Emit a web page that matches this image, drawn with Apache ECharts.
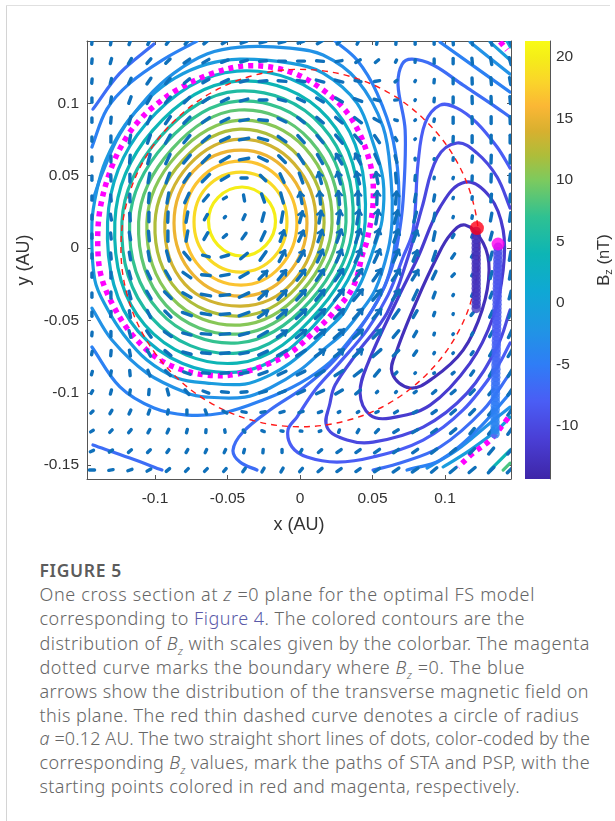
<!DOCTYPE html>
<html><head><meta charset="utf-8">
<script src="https://cdn.jsdelivr.net/npm/echarts@6/dist/echarts.min.js"></script>
<style>
html,body{margin:0;padding:0;background:#fff;width:615px;height:821px;overflow:hidden}
#chart{position:absolute;left:0;top:0;width:615px;height:540px}
.frame-l{position:absolute;left:6px;top:5px;width:1px;height:816px;background:#d4d4d4}
.frame-t{position:absolute;left:6px;top:5px;width:604px;height:1px;background:#e0e0e0}
#cap{position:absolute;left:39.5px;top:0;font-family:"Noto Sans","Open Sans",sans-serif;color:#666;white-space:nowrap}
#cap div{position:absolute;left:0;font-size:18px;line-height:24px;font-weight:300}
#cap .t{font-weight:600;font-size:17.5px;color:#5c5c5c}
#cap a{color:#5a5aa8;text-decoration:none}
#cap sub{font-size:11px;line-height:0}
</style></head><body>
<div class="frame-l"></div><div class="frame-t"></div>
<div id="chart"></div>
<div id="cap">
<div class="t" style="top:558px" data-r="122">FIGURE 5</div>
<div style="top:582px" data-r="535">One cross section at <i>z</i> =0 plane for the optimal FS model</div>
<div style="top:606px" data-r="525">corresponding to <a>Figure 4</a>. The colored contours are the</div>
<div style="top:631px" data-r="590">distribution of <i>B<sub>z</sub></i> with scales given by the colorbar. The magenta</div>
<div style="top:655px" data-r="525">dotted curve marks the boundary where <i>B<sub>z</sub></i> =0. The blue</div>
<div style="top:679px" data-r="589">arrows show the distribution of the transverse magnetic field on</div>
<div style="top:703px" data-r="579">this plane. The red thin dashed curve denotes a circle of radius</div>
<div style="top:726px" data-r="590"><i>a</i> =0.12 AU. The two straight short lines of dots, color-coded by the</div>
<div style="top:750px" data-r="590">corresponding <i>B<sub>z</sub></i> values, mark the paths of STA and PSP, with the</div>
<div style="top:774px" data-r="520">starting points colored in red and magenta, respectively.</div>
</div>
<script>
const xTicks=[-0.1,-0.05,0,0.05,0.1];
const yTicks=[-0.15,-0.1,-0.05,0,0.05,0.1];
const barTicks=[-10,-5,0,5,10,15,20];
const xRange=[-0.1469,0.1455], yRange=[-0.1596,0.1431], barRange=[-14.3,21.3];

const colorValues=[-14.3,-11,-8,-5,-2,1,4,7,10,12,14,16,18,20,21.3];
const colorHex=['#3e26a8','#4a3fd6','#4a5df5','#2f7df6','#1f96e3','#0fa8d4','#0db5b5','#2fc192','#7dca5e','#aebd3a','#d8b02f','#fbb735','#fad52a','#f5ee18','#f9fb15'];

const ringLevels=[20,18.4,16.8,15.2,13.6,12,10.4,8.8,7.2,5.6,4,2.4];
const ring1=[[-.0169,.0187],[-.0238,.0349],[-.04,.0422],[-.0566,.0349],[-.0631,.0187],[-.0566,.0021],[-.04,-.0055],[-.0235,.0021]];
const ring2=[[-.009,.018],[-.0179,.0422],[-.0407,.0525],[-.0642,.0422],[-.0731,.018],[-.0642,-.0062],[-.0407,-.0166],[-.0179,-.0062]];
const ring3=[[-.0021,.0173],[-.0138,.0477],[-.0407,.0601],[-.069,.0477],[-.08,.0173],[-.069,-.0131],[-.0407,-.0256],[-.0138,-.0131]];
const ring4=[[.0048,.0173],[-.009,.0532],[-.0407,.0677],[-.0735,.0532],[-.0869,.0173],[-.0735,-.0187],[-.0407,-.0332],[-.009,-.0187]];
const ring5=[[.011,.0176],[-.0041,.0584],[-.0407,.0753],[-.0766,.0574],[-.0932,.0176],[-.0794,-.0249],[-.0407,-.0401],[-.0052,-.0238]];
const ring6=[[.0166,.0176],[-.0007,.0632],[-.0414,.0822],[-.0807,.0608],[-.1,.0176],[-.0842,-.0297],[-.0414,-.047],[-.0021,-.0269]];
const ring7=[[.0221,.0176],[.0035,.0691],[-.0414,.0884],[-.0849,.0643],[-.1056,.0176],[-.0883,-.0346],[-.0414,-.0532],[.001,-.0301]];
const ring8=[[.0269,.018],[.0069,.0746],[-.0421,.0954],[-.0883,.0684],[-.1113,.018],[-.0925,-.0394],[-.0421,-.0594],[.0041,-.0332]];
const ring9=[[.0317,.018],[.011,.0795],[-.0428,.1016],[-.0925,.0726],[-.1175,.018],[-.0973,-.0435],[-.0428,-.0656],[.0072,-.0363]];
const ring10=[[.0366,.018],[.0152,.0843],[-.0435,.1085],[-.0966,.0767],[-.1228,.018],[-.1021,-.0484],[-.0435,-.0726],[.0104,-.0394]];
const ring11=[[.0407,.018],[.0193,.0898],[-.0435,.1154],[-.1014,.0815],[-.1277,.018],[-.107,-.0532],[-.0435,-.0795],[.0135,-.0425]];
const ring12=[[.0449,.018],[.0242,.0954],[-.0435,.1223],[-.1063,.0857],[-.1327,.018],[-.1118,-.0574],[-.0435,-.0857],[.0166,-.0456]];

const zeroLoop=[[.0504,.0311],[.046,.0044],[.0435,-.0028],[.0366,-.0269],[.0228,-.0449],[.009,-.0587],[-.0069,-.0726],[-.0207,-.0795],[-.0435,-.0871],[-.0644,-.0878],[-.0851,-.0829],[-.1014,-.0739],[-.1173,-.058],[-.129,-.0394],[-.1368,-.0207],[-.1394,-.0014],[-.138,.0263],[-.1299,.056],[-.1196,.0767],[-.1107,.0884],[-.1014,.0974],[-.0851,.1092],[-.06,.1209],[-.0345,.126],[-.0069,.1218],[.0159,.1092],[.0352,.0898],[.0483,.0587]];
const zeroLower=[[.1435,-.1175],[.1311,-.1327],[.1194,-.1417],[.109,-.1513]];
const zeroUpper=[[.138,.1426],[.1428,.1368]];

const levelA=-1, levelB=-2.5, levelC=-4.5, levelD=-6.5, levelE=-8, levelF=-10, levelG=-11.5, levelH=-13;
const lineA=[[-.0642,-.0933],[-.038,-.094],[-.0207,-.0878],[-.0069,-.0795],[.009,-.0663],[.0193,-.056],[.029,-.0463],[.0352,-.0359],[.0428,-.0221],[.0504,-.0014],[.0566,.0193],[.0573,.047],[.0504,.0726],[.0393,.1002],[.0159,.1209],[-.0069,.1278],[-.0414,.1306],[-.0642,.1271],[-.0863,.1175],[-.1035,.1043],[-.1208,.085],[-.1339,.0608],[-.1401,.0401],[-.1435,.0173],[-.1415,-.0221],[-.1332,-.0415],[-.1214,-.0601],[-.1056,-.0774],[-.0849,-.0898]];
const lineAUpper=[[.1311,.1423],[.1449,.1299]];
const lineALower=[[.0987,-.1513],[.1173,-.1396],[.1359,-.1258],[.1449,-.1168]];
const lineB=[[-.1428,.0332],[-.1366,.0511],[-.1242,.0788],[-.1056,.1037],[-.0869,.1209],[-.0642,.1341],[-.0414,.1389],[-.0069,.1382],[.0159,.1334],[.0393,.1161],[.0573,.0836],[.0628,.047],[.0635,.0193],[.0607,-.0014],[.0518,-.029],[.04,-.0463],[.0297,-.0587],[.0159,-.0705],[0,-.0843],[-.0207,-.0967],[-.038,-.103],[-.0642,-.103],[-.078,-.1002],[-.1056,-.0864],[-.1297,-.0636],[-.1435,-.0415]];
const lineBUpper=[[.1173,.1423],[.1449,.1202]];
const lineBLower=[[.0876,-.152],[.1083,-.1396],[.1311,-.1209],[.1449,-.1099]];
const lineC=[[.0242,.143],[.0393,.1299],[.0531,.1071],[.0642,.0746],[.0683,.0352],[.0649,-.0014],[.06,-.0221],[.0497,-.0428],[.0359,-.0615],[.0207,-.0788],[0,-.0933],[-.0255,-.105],[-.0531,-.114],[-.078,-.1154],[-.1007,-.1106],[-.1242,-.096],[-.1435,-.0684]];
const lineCLeft=[[-.1435,.0698],[-.1332,.096],[-.1173,.114],[-.0938,.1306],[-.0711,.143]];
const lineCUpper=[[.0966,.1423],[.1449,.1078]];
const lineCLower=[[.0738,-.1534],[.0966,-.1465],[.1221,-.1258],[.1449,-.1002]];
const lineD=[[-.0297,-.1534],[-.0414,-.1479],[-.0462,-.1396],[-.0393,-.1271],[-.0207,-.1119],[.0021,-.0967],[.0207,-.0808],[.038,-.0601],[.0538,-.0359],[.0628,-.0152],[.0676,.0055],[.0711,.0332],[.0725,.0815],[.0676,.1126],[.0704,.1271],[.0773,.1306],[.0918,.1265],[.1125,.1126],[.1311,.1002],[.1449,.0905]];
const lineDLeftUp=[[-.1428,.096],[-.1242,.1209],[-.1007,.141]];
const lineDLeftLow=[[-.1428,-.1361],[-.1173,-.1451],[-.0952,-.1534]];
const lineDLower=[[.0504,-.1534],[.069,-.1486],[.0966,-.1375],[.1263,-.1119],[.1449,-.0864]];
const lineE=[[.1449,.0553],[.1359,.0698],[.1221,.0864],[.1083,.0967],[.0966,.0988],[.0863,.0864],[.0814,.0587],[.078,.0124],[.0711,-.0062],[.0607,-.0325],[.0462,-.0567],[.0276,-.0788],[.0104,-.0981],[-.0021,-.1168],[-.0083,-.1258],[-.0055,-.1375],[.0048,-.1444],[.0255,-.1479],[.0504,-.1444],[.0849,-.1327],[.1125,-.1119],[.1359,-.0822],[.1449,-.0656]];
const lineF=[[.1449,.0276],[.1359,.0491],[.1221,.0656],[.1083,.0726],[.0945,.0622],[.0842,.0283],[.0745,-.0062],[.06,-.0449],[.0393,-.0726],[.0242,-.0947],[.0207,-.1071],[.0186,-.1237],[.0324,-.1327],[.0504,-.1341],[.0849,-.1237],[.1152,-.1002],[.1359,-.0684],[.1449,-.0428]];
const lineG=[[.1139,.0456],[.1311,.0352],[.1401,.0124],[.1401,-.0152],[.1332,-.0477],[.1173,-.0795],[.0897,-.1085],[.0621,-.1175],[.0483,-.1154],[.0414,-.1002],[.0469,-.0795],[.0669,-.0359],[.0814,-.0062],[.0966,.0283]];
const lineH=[[.1139,.0159],[.1263,.0035],[.1304,-.0152],[.1256,-.0428],[.1125,-.0705],[.0918,-.0898],[.0759,-.0967],[.0635,-.0864],[.0669,-.0705],[.0807,-.0359],[.0945,-.0062],[.1035,.009]];
const cornerTeal=[[.1311,-.1534],[.1449,-.1396]];
const cornerGreen=[[.1401,-.1534],[.1449,-.1486]];
const cornerTop=[[.1428,.143],[.145,.139]];

const circleA=[[.1235,0],[.1193,.032],[.107,.0618],[.0873,.0873],[.0618,.107],[.032,.1193],[0,.1235],[-.032,.1193],[-.0618,.107],[-.0873,.0873],[-.107,.0618],[-.1193,.032],[-.1235,0],[-.1193,-.032],[-.107,-.0618],[-.0873,-.0873],[-.0618,-.107],[-.032,-.1193],[0,-.1235],[.032,-.1193],[.0618,-.107],[.0873,-.0873],[.107,-.0618],[.1193,-.032]];

const gridX=[-.1435,-.1304,-.1173,-.1042,-.0911,-.078,-.0649,-.0518,-.0386,-.0255,-.0124,.0007,.0138,.0269,.04,.0531,.0662,.0794,.0925,.1056,.1187,.1318,.1449];
const gridY=[.1423,.1292,.1154,.1023,.0884,.0753,.0615,.0484,.0346,.0214,.0083,-.0055,-.0187,-.0325,-.0456,-.0594,-.0726,-.0864,-.0995,-.1133,-.1265,-.1403,-.1534];
const arrowAngle=[
[85,80,70,65,55,50,40,30,20,15,15,20,30,45,65,80,85,90,90,95,100,105,110],
[85,75,60,50,45,35,30,20,15,5,0,0,-5,10,30,40,65,85,90,90,95,100,105],
[85,75,65,55,50,40,30,25,15,5,-5,-10,-15,-15,-10,10,40,60,85,90,92,95,100],
[90,80,70,60,50,45,35,25,15,0,-15,-25,-30,-30,-20,-15,5,60,85,90,92,92,95],
[90,85,75,65,55,45,35,25,10,-5,-25,-38,-40,-40,-38,-30,-15,40,80,90,92,90,92],
[90,90,80,70,60,50,40,25,10,-15,-35,-48,-50,-50,-50,-55,-60,50,70,88,90,90,90],
[90,90,85,75,65,50,45,30,10,-25,-45,-58,-60,-60,-62,-65,-75,90,70,85,85,88,88],
[90,92,90,80,70,55,45,30,0,-45,-65,-70,-75,-75,-75,-80,-85,85,80,70,88,88,88],
[90,95,92,85,80,65,50,30,100,110,105,100,95,95,90,88,85,80,80,70,85,85,85],
[90,100,95,90,88,80,60,45,65,75,80,75,80,80,80,80,75,75,80,70,80,80,82],
[90,95,100,95,90,80,60,40,55,65,70,65,70,70,70,72,70,70,78,60,70,75,80],
[90,95,100,100,105,130,165,15,40,55,62,60,65,65,65,65,65,68,72,55,60,75,80],
[90,90,105,115,120,145,175,10,30,45,50,52,55,55,55,55,55,58,65,45,60,75,80],
[90,90,105,120,135,150,170,5,25,42,47,48,50,50,50,50,55,65,70,60,65,70,75],
[90,85,100,115,135,160,170,5,20,35,40,42,44,45,47,50,55,60,70,70,50,65,70],
[85,90,105,125,145,165,175,5,15,30,35,38,40,42,42,45,50,60,70,50,60,60,65],
[80,85,100,120,140,165,175,5,10,25,30,33,35,38,40,42,45,55,60,50,55,60,60],
[75,80,95,110,135,160,175,5,10,20,25,27,30,33,38,50,45,45,30,40,55,60,60],
[60,75,80,85,105,130,160,175,5,15,20,25,25,30,40,45,45,35,40,40,45,50,55],
[45,60,65,70,80,90,110,150,170,10,15,15,20,25,30,25,30,30,35,40,45,50,55],
[30,45,50,60,65,75,85,100,130,160,170,175,20,70,60,45,30,30,35,40,50,50,55],
[25,35,40,45,55,60,65,65,75,85,90,60,40,35,35,35,35,35,38,40,45,50,50],
[0,10,20,30,40,45,45,50,55,60,60,50,40,35,35,35,35,35,40,40,40,45,45]];
const arrowLength=[
[5,6,6,6,6,6,6,7,7,7,7,7,7,6,5,5,5,5,5,6,6,7,8],
[5,6,7,7,7,8,8,8,8,8,8,8,8,7,6,5,3,3,5,6,7,8,8],
[5,6,7,8,8,8,8,9,9,9,9,9,9,9,7,6,3,1.5,4,6,7,8,8],
[5,7,8,9,9,9,9,9,9,9,9,9,9,9,9,7,3,1,4,7,8,8,8],
[5,7,9,9,10,10,10,10,10,10,10,10,10,10,10,8,3,1,3,7,8,8,8],
[5,7,9,10,11,11,11,11,11,11,11,11,11,12,12,10,4,1,2,6,8,9,9],
[5,7,9,11,12,12,12,12,11,11,11,12,12,13,13,12,8,2,1,3,7,9,9],
[5,7,9,11,12,12,12,10,7,9,11,12,13,14,14,13,11,6,2,1.5,5,9,9],
[5,7,9,11,12,12,9,4,7,10,12,13,14,15,15,15,14,9,7,1.5,3,9,9],
[5,7,9,11,12,12,7,2,6,10,12,13,14,15,16,16,15,12,9,1.5,3,9,10],
[5,7,9,11,12,12,9,5,8,11,13,13,14,15,16,16,15,13,10,4,3,9,10],
[5,7,9,11,12,11,8,9,10,12,14,14,15,15,16,16,15,13,11,6,3,9,10],
[5,7,9,10,11,11,10,10,11,13,14,15,15,16,16,16,15,13,10,4,2,8,9],
[5,7,9,10,11,11,11,11,12,13,14,15,15,16,16,15,14,12,7,1.5,3,7,9],
[5,6,8,9,10,11,11,11,12,13,14,15,15,15,15,14,12,9,4,1,4,8,9],
[4,6,8,9,10,10,11,11,11,12,13,14,15,15,14,13,10,7,2,1,3,7,9],
[4,6,7,8,9,10,10,10,10,11,12,12,13,13,13,12,9,6,1.5,1,4,7,9],
[4,5,6,7,8,8,8,9,9,10,10,10,11,11,11,9,3,1,1,3,6,8,9],
[3.5,5,5,6,7,7,7,8,7,8,8,9,9,9,7,2,1.5,3,5,6,7,8,9],
[3.5,4.5,5,5,5,5,5,5,5,5,5,5,4,2,2,3,4,5,6,7,8,9,9],
[3.5,4,4.5,4.5,4.5,4,3.5,3,3,3,2.5,2,2,3,4,5,6,7,7,8,8,9,9],
[4,4.5,4.5,4.5,4,4,4,4,4,4,3.5,4,5,6,6,7,7,7,8,8,8,9,9],
[6,5,5,5,5,4.5,4.5,4.5,5,5,5,5,6,6,6,7,8,8,8,9,9,9,9]];

const staX=.1215;
const staY=[.0115,.0087,.0059,.0031,.0003,-.0025,-.0053,-.0081,-.0109,-.0137,-.0165,-.0193,-.0221,-.0249,-.0277,-.0305,-.0333,-.0361,-.0389,-.0417];
const staBz=[-13,-13,-13,-13,-13,-13.1,-13.1,-13.1,-13,-13,-13,-12.9,-12.9,-12.8,-12.8,-12.7,-12.7,-12.6,-12.6,-12.5];
const pspX=[.1366,.1365,.1365,.1364,.1364,.1363,.1363,.1362,.1362,.1361,.1361,.136,.136,.1359,.1359,.1358,.1358,.1357,.1357,.1356,.1356,.1355,.1355,.1354,.1354,.1353,.1353,.1352,.1352,.1351,.1351,.135,.135,.1349,.1349,.1348,.1348,.1347,.1347,.1346,.1346,.1345,.1345,.1345,.1345,.1345,.1345];
const pspY=[.0005,-.0025,-.0053,-.0081,-.0109,-.0137,-.0165,-.0193,-.0221,-.0249,-.0277,-.0305,-.0333,-.0361,-.0389,-.0417,-.0445,-.0473,-.0501,-.0529,-.0557,-.0585,-.0613,-.0641,-.0669,-.0697,-.0725,-.0753,-.0781,-.0809,-.0837,-.0865,-.0893,-.0921,-.0949,-.0977,-.1005,-.1033,-.1061,-.1089,-.1117,-.1145,-.1173,-.1201,-.1229,-.1257,-.1285];
const pspBz=[-9.4,-9.4,-9.3,-9.3,-9.2,-9.2,-9.1,-9.1,-9,-9,-8.9,-8.9,-8.8,-8.8,-8.7,-8.7,-8.6,-8.5,-8.4,-8.3,-8.2,-8.1,-8,-7.9,-7.7,-7.6,-7.4,-7.3,-7.1,-7,-6.8,-6.6,-6.4,-6.2,-6,-5.8,-5.6,-5.4,-5.2,-5,-4.8,-4.6,-4.4,-4.2,-4,-3.9,-3.8];
const staStart=[.122,.0138], pspStart=[.1366,.0028];

function hexRgb(h){return [parseInt(h.slice(1,3),16),parseInt(h.slice(3,5),16),parseInt(h.slice(5,7),16)];}
function colorFor(v){
  for(let i=0;i<colorValues.length-1;i++){
    if(v<=colorValues[i+1]){
      const t=Math.max(0,(v-colorValues[i])/(colorValues[i+1]-colorValues[i]));
      const a=hexRgb(colorHex[i]),b=hexRgb(colorHex[i+1]);
      return 'rgb('+a.map((c,k)=>Math.round(c+(b[k]-c)*t)).join(',')+')';
    }
  }
  return colorHex[colorHex.length-1];
}
// smooth curve through the listed data points, placed by the axes
echarts.graphic.registerShape('smoothCurve',echarts.graphic.extendShape({
  shape:{points:[],closed:false},
  buildPath(ctx,shape){
    const P=shape.points,isClosed=shape.closed,n=P.length,k=0.35;
    if(!n) return;
    const tan=i=>{
      const a=isClosed?P[(i-1+n)%n]:P[Math.max(i-1,0)], b=isClosed?P[(i+1)%n]:P[Math.min(i+1,n-1)];
      const dx=b[0]-a[0],dy=b[1]-a[1],l=Math.hypot(dx,dy)||1; return [dx/l,dy/l];
    };
    ctx.moveTo(P[0][0],P[0][1]);
    const m=isClosed?n:n-1;
    for(let i=0;i<m;i++){
      const p=P[i],q=P[(i+1)%n],s=Math.hypot(q[0]-p[0],q[1]-p[1]),t0=tan(i),t1=tan((i+1)%n);
      ctx.bezierCurveTo(p[0]+t0[0]*s*k,p[1]+t0[1]*s*k,q[0]-t1[0]*s*k,q[1]-t1[1]*s*k,q[0],q[1]);
    }
    if(isClosed) ctx.closePath();
  }}));
function curve(pts,isClosed,style,z){
  return {type:'custom',data:pts,clip:true,silent:true,z:z,encode:{x:0,y:1},xAxisIndex:0,yAxisIndex:0,
    renderItem(params,api){
      if(params.dataIndex!==0) return null;
      return {type:'smoothCurve',shape:{points:pts.map(p=>api.coord(p)),closed:isClosed},style:Object.assign({fill:null},style)};
    }};
}
function contour(pts,level,isClosed){
  return curve(pts,!!isClosed,{stroke:colorFor(level),lineWidth:3.2,lineCap:'round'},2);
}
const rings=[ring1,ring2,ring3,ring4,ring5,ring6,ring7,ring8,ring9,ring10,ring11,ring12];
const series=[];
rings.forEach((r,i)=>series.push(contour(r,ringLevels[i],true)));
[[lineA,levelA,true],[lineAUpper,levelA],[lineALower,levelA],[lineB,levelB],[lineBUpper,levelB],[lineBLower,levelB],
 [lineC,levelC],[lineCLeft,levelC],[lineCUpper,levelC],[lineCLower,levelC],
 [lineD,levelD],[lineDLeftUp,levelD],[lineDLeftLow,levelD],[lineDLower,levelD],
 [lineE,levelE],[lineF,levelF],[lineG,levelG,true],[lineH,levelH,true],
 [cornerTeal,4],[cornerGreen,8],[cornerTop,1]].forEach(p=>series.push(contour(p[0],p[1],p[2])));
const magStyle={stroke:'#ff00ff',lineWidth:5.5,lineDash:[5,5],lineCap:'butt'};
series.push(curve(zeroLoop,true,magStyle,3),curve(zeroLower,false,magStyle,3),curve(zeroUpper,false,magStyle,3));
series.push(curve(circleA,true,{stroke:'#ff1a1a',lineWidth:1.4,lineDash:[6,5]},4));
const arrowData=[];
gridY.forEach((y,j)=>gridX.forEach((x,i)=>arrowData.push([x,y,arrowAngle[j][i],arrowLength[j][i]])));
series.push({type:'custom',data:arrowData,clip:true,silent:true,z:5,encode:{x:0,y:1},
  renderItem(params,api){
    const x=api.value(0),y=api.value(1),a=api.value(2)*Math.PI/180,l=api.value(3)*0.0006;
    const p1=api.coord([x-l*Math.cos(a)/2,y-l*Math.sin(a)/2]),p2=api.coord([x+l*Math.cos(a)/2,y+l*Math.sin(a)/2]);
    const st={stroke:'#0f70ba',lineWidth:3.4,lineCap:'round',lineJoin:'round',fill:null};
    const ch=[{type:'line',shape:{x1:p1[0],y1:p1[1],x2:p2[0],y2:p2[1]},style:st}];
    if(api.value(3)>=13){
      const s=Math.sin(a)>=0?1:-1, dx=s*Math.cos(a), dy=-s*Math.sin(a), tx=s>0?p2[0]:p1[0], ty=s>0?p2[1]:p1[1], h=4;
      ch.push({type:'polyline',shape:{points:[[tx-dx*h-dy*h*.8,ty-dy*h+dx*h*.8],[tx,ty],[tx-dx*h+dy*h*.8,ty-dy*h-dx*h*.8]]},style:{stroke:'#0f70ba',lineWidth:2.4,lineCap:'round',lineJoin:'round',fill:null}});
    }
    return {type:'group',children:ch};
  }});
series.push({type:'scatter',data:staY.map((y,i)=>({value:[staX,y],itemStyle:{color:colorFor(staBz[i])}})),symbolSize:9.5,silent:true,z:6});
series.push({type:'scatter',data:pspY.map((y,i)=>({value:[pspX[i],y],itemStyle:{color:colorFor(pspBz[i])}})),symbolSize:9.5,silent:true,z:6});
series.push({type:'scatter',data:[staStart],symbolSize:14,itemStyle:{color:'#ff0018'},silent:true,z:7});
series.push({type:'scatter',data:[pspStart],symbolSize:13,itemStyle:{color:'#ff00f0'},silent:true,z:7});
const barStops=colorValues.map((v,i)=>({offset:1-(v-barRange[0])/(barRange[1]-barRange[0]),color:colorHex[i]})).reverse();
series.push({type:'custom',xAxisIndex:2,yAxisIndex:2,data:[[0,barRange[1],1,barRange[0]]],silent:true,z:2,encode:{x:0,y:1},
  renderItem(params,api){
    const a=api.coord([api.value(0),api.value(1)]),b=api.coord([api.value(2),api.value(3)]);
    return {type:'rect',shape:{x:a[0],y:a[1],width:b[0]-a[0],height:b[1]-a[1]},
      style:{fill:{type:'linear',x:0,y:0,x2:0,y2:1,colorStops:barStops}}};
  }});
const axisCol='#555', textCol='#333', fontF='"Liberation Sans",Arial,sans-serif';
function fmt(v){return String(+v.toFixed(2));}
const lineSt={show:true,lineStyle:{color:axisCol,width:1},onZero:false};
const chart=echarts.init(document.getElementById('chart'),null,{renderer:'canvas',width:615,height:540});
chart.setOption({
  animation:false,backgroundColor:'transparent',
  grid:[{left:87,top:41,width:424,height:438,show:false},{left:525,top:41,width:27,height:438,show:false}],
  xAxis:[
   {type:'value',gridIndex:0,min:xRange[0],max:xRange[1],position:'bottom',axisLine:lineSt,splitLine:{show:false},
    axisTick:{show:true,inside:true,length:4,customValues:xTicks,lineStyle:{color:axisCol}},
    axisLabel:{customValues:xTicks,formatter:fmt,color:textCol,fontSize:15.5,fontFamily:fontF,margin:12},
    name:'x (AU)',nameLocation:'middle',nameGap:37,nameTextStyle:{fontSize:18,color:textCol,fontFamily:fontF}},
   {type:'value',gridIndex:0,min:xRange[0],max:xRange[1],position:'top',axisLine:lineSt,splitLine:{show:false},
    axisTick:{show:true,inside:true,length:4,customValues:xTicks,lineStyle:{color:axisCol}},axisLabel:{show:false}},
   {type:'value',gridIndex:1,min:0,max:1,show:false}
  ],
  yAxis:[
   {type:'value',gridIndex:0,min:yRange[0],max:yRange[1],position:'left',axisLine:lineSt,splitLine:{show:false},
    axisTick:{show:true,inside:true,length:4,customValues:yTicks,lineStyle:{color:axisCol}},
    axisLabel:{customValues:yTicks,formatter:fmt,color:textCol,fontSize:15.5,fontFamily:fontF,margin:8},
    name:'y (AU)',nameLocation:'middle',nameGap:52,nameRotate:90,nameTextStyle:{fontSize:18,color:textCol,fontFamily:fontF}},
   {type:'value',gridIndex:0,min:yRange[0],max:yRange[1],position:'right',axisLine:lineSt,splitLine:{show:false},
    axisTick:{show:true,inside:true,length:4,customValues:yTicks,lineStyle:{color:axisCol}},axisLabel:{show:false}},
   {type:'value',gridIndex:1,min:barRange[0],max:barRange[1],position:'right',axisLine:lineSt,splitLine:{show:false},
    axisTick:{show:true,inside:true,length:4,customValues:barTicks,lineStyle:{color:axisCol}},
    axisLabel:{customValues:barTicks,formatter:fmt,color:textCol,fontSize:15.5,fontFamily:fontF,margin:6},
    name:'{b|B}{s|z}{b| (nT)}',nameLocation:'middle',nameGap:45,nameRotate:90,
    nameTextStyle:{color:textCol,fontFamily:fontF,rich:{b:{fontSize:16.5,color:textCol,fontFamily:fontF},s:{fontSize:11,color:textCol,fontFamily:fontF,padding:[8,0,0,0]}}}}
  ],
  series
});
// fit each caption line to the width it has in the figure
document.querySelectorAll('#cap div').forEach(el=>{
  const right=+el.dataset.r, len=el.textContent.length;
  const w=el.getBoundingClientRect().width, target=right-39.5;
  el.style.letterSpacing=((target-w)/len).toFixed(3)+'px';
});
</script>
</body></html>
